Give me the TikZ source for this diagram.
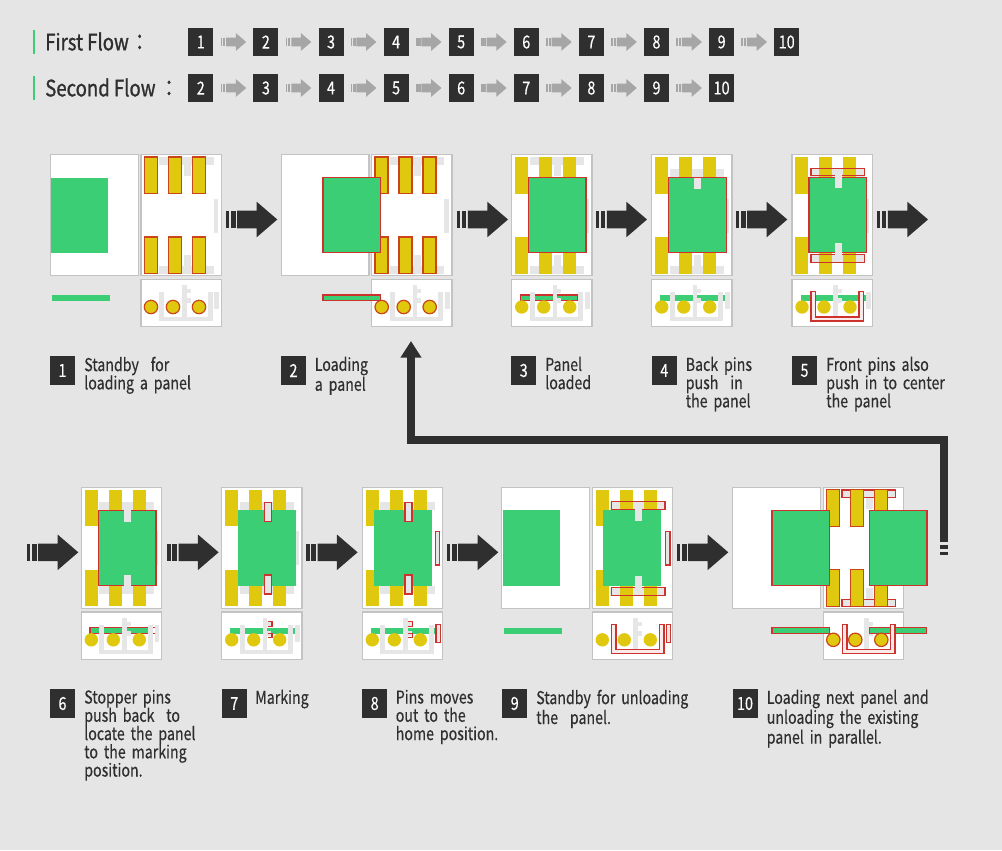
\documentclass[tikz,border=0pt]{standalone}
\usepackage{fontspec}
\setmainfont[FakeStretch=0.8, FakeBold=0.35]{Noto Sans CJK KR}
\newfontfamily\titlefont[FakeStretch=0.82, FakeBold=1]{Noto Sans CJK KR}
\usetikzlibrary{arrows.meta, calc}
\definecolor{pagegrey}{RGB}{229, 229, 229}
\definecolor{framegrey}{RGB}{195, 195, 195}
\definecolor{markgrey}{RGB}{230, 230, 230}
\definecolor{numdark}{RGB}{47, 47, 47}
\definecolor{arrowgrey}{RGB}{166, 166, 166}
\definecolor{panelgreen}{RGB}{60, 206, 116}
\definecolor{pinyellow}{RGB}{224, 200, 15}
\definecolor{linered}{RGB}{205, 50, 45}
\definecolor{pinedge}{RGB}{200, 70, 25}
\tikzset{
  flownum/.style={fill=numdark, text=white, minimum width=18.75pt, minimum height=21.5pt, inner sep=0pt, font=\fontsize{13.5}{13.5}\selectfont},
  flowtitle/.style={anchor=west, inner sep=0pt, text=numdark, font=\titlefont\fontsize{17}{17}\selectfont},
  capnum/.style={flownum},
  captext/.style={anchor=north west, inner sep=0pt, text width=125pt, align=left, text=numdark, font=\fontsize{13.3}{13.7}\selectfont},
  frame/.style={fill=white, draw=framegrey, line width=1pt},
  marks/.style={fill=markgrey},
  markred/.style={fill=markgrey, draw=linered, line width=0.9pt},
  redline/.style={draw=linered, line width=0.9pt},
  ubar/.style={fill=linered!10, draw=linered, line width=0.9pt},
  pinplain/.style={fill=pinyellow},
  pinred/.style={fill=pinyellow, draw=pinedge, line width=0.9pt},
  panelplain/.style={fill=panelgreen},
  panelred/.style={fill=panelgreen, draw=linered, line width=0.9pt},
  sidepart/.style={shift={(0,124.8)}},
  returnline/.style={draw=numdark, line width=6pt, -{Triangle[length=12.5pt, width=15pt]}}
}
\newcommand{\blockarrow}[3]{
  \begin{scope}[shift={(#1)}, scale=#2]
    \fill[#3] (-25.6,-8.8) rectangle (-22.3,8.8);
    \fill[#3] (-20.6,-8.8) rectangle (-16,8.8);
    \fill[#3] (-14.4,-8.8) -- (5,-8.8) -- (5,-17.8) -- (25.7,0) -- (5,17.8) -- (5,8.8) -- (-14.4,8.8) -- cycle;
  \end{scope}
}
\newcommand{\loadframe}{\path[frame] (-90.5,0) rectangle (-2.8,121.3);}
\newcommand{\topframe}{\path[frame] (0,0) rectangle (80.3,121.3);}
\newcommand{\sideframe}{\path[frame] (0,0) rectangle (80.3,47.4);}
\newcommand{\greytop}[1]{\fill[marks] (18,#1) rectangle (72.5,#1+8); \fill[marks] (42.5,#1) rectangle (49.5,#1+19);}
\newcommand{\greybot}[1]{\fill[marks] (18,#1) rectangle (72.5,#1+8); \fill[marks] (42.5,#1-11) rectangle (49.5,#1+8);}
\newcommand{\greyright}{\fill[marks] (72.5,44) rectangle (77,78);}
\newcommand{\pinrow}[1]{
  \foreach \px in {3.3,27.3,51.3} {
    \path[#1] (\px,2.5) rectangle ++(13,36.5);
    \path[#1] (\px,82.5) rectangle ++(13,36.5);
  }
}
\newcommand{\panelat}[2]{\path[#1] (#2,23) rectangle ++(57.6,75.3);}
\newcommand{\slotmark}[3][marks]{\path[#1] (42.7,#2) rectangle (49.7,#3);}
\newcommand{\redbar}[1]{\path[redline] (19,#1) rectangle (72.7,#1+7.5);}
\newcommand{\sidebase}{
  \fill[marks] (18,12.4) rectangle (23,41.7);
  \fill[marks] (66.7,12.4) rectangle (71.7,41.7);
  \fill[marks] (18,37.4) rectangle (71.7,41.7);
  \fill[marks] (73.3,12.4) rectangle (78,29.7);
  \sidecentre
}
\newcommand{\sidecentre}{
  \fill[marks] (41,5.7) rectangle (45.5,39);
  \fill[marks] (45.5,9.7) rectangle (49.5,13.7);
  \fill[marks] (45.5,18.7) rectangle (49.5,23.7);
}
\newcommand{\sidepanel}[3]{\path[#1] (#2,15.7) rectangle (#3,21.4);}
\newcommand{\ushape}{\path[ubar] (19,12.4) -- (23.7,12.4) -- (23.7,37.7) -- (67,37.7) -- (67,12.4) -- (71.7,12.4) -- (71.7,41.7) -- (19,41.7) -- cycle;}
\newcommand{\sidecircles}[1]{
  \foreach \cx in {10,32,58} {
    \path[#1] (\cx,27.7) circle (6.7);
  }
}
\newcommand{\smallhooks}{
  \path[redline] (46,9.7) -- (50.3,9.7) -- (50.3,14) -- (46,14);
  \path[redline] (46,21.3) -- (50.3,21.3) -- (50.3,25.7) -- (46,25.7);
}

\begin{document}
\begin{tikzpicture}[x=0.75pt, y=-0.75pt]
  \useasboundingbox (0,0) rectangle (1002,850);
  \fill[pagegrey] (0,0) rectangle (1002,850);

  % flow lists
  \fill[panelgreen] (32.7,30) rectangle (35,54);
  \fill[panelgreen] (32.7,76) rectangle (35,100);
  \node[flowtitle] (firstflow) at (45,41.5) {First Flow\hspace{-2pt} ：};
  \node[flowtitle] (secondflow) at (45,87.5) {Second Flow ：};
  \foreach \n in {1,...,10} {
    \node[flownum] (fa\n) at ({200.8+65.1*(\n-1)},42) {\n};
  }
  \foreach \n in {2,...,10} {
    \node[flownum] (fb\n) at ({200.8+65.1*(\n-2)},88) {\n};
  }
  \foreach \n [count=\m from 2] in {1,...,9} {
    \blockarrow{$(fa\n.east)!0.5!(fa\m.west)$}{0.5}{arrowgrey}
  }
  \foreach \n [count=\m from 3] in {2,...,9} {
    \blockarrow{$(fb\n.east)!0.5!(fb\m.west)$}{0.5}{arrowgrey}
  }

  % stage 1
  \begin{scope}[shift={(141,154.5)}]
    \loadframe
    \topframe
    \greytop{2.5} \greybot{111.5} \greyright
    \pinrow{pinred}
    \panelat{panelplain}{-90.3}
    \begin{scope}[sidepart]
      \sideframe
      \sidebase
      \sidepanel{panelplain}{-89}{-31}
      \sidecircles{pinred}
    \end{scope}
  \end{scope}
  % stage 2
  \begin{scope}[shift={(371.7,154.5)}]
    \loadframe
    \topframe
    \greytop{2.5} \greybot{111.5} \greyright
    \pinrow{pinred}
    \panelat{panelred}{-48.7}
    \begin{scope}[sidepart]
      \sideframe
      \sidebase
      \sidecircles{pinred}
      \sidepanel{panelred}{-48.7}{8.6}
    \end{scope}
  \end{scope}
  % stage 3
  \begin{scope}[shift={(511.7,154.5)}]
    \topframe
    \greytop{2.5} \greybot{111.5} \greyright
    \pinrow{pinplain}
    \panelat{panelred}{16.7}
    \begin{scope}[sidepart]
      \sideframe
      \sidepanel{panelred}{8.6}{66}
      \sidebase
      \sidecircles{pinplain}
    \end{scope}
  \end{scope}
  % stage 4
  \begin{scope}[shift={(651.7,154.5)}]
    \topframe
    \greytop{14.5} \greybot{111.5} \greyright
    \pinrow{pinplain}
    \panelat{panelred}{17}
    \slotmark{23}{34.5}
    \begin{scope}[sidepart]
      \sideframe
      \sidepanel{panelplain}{8.3}{74.3}
      \sidebase
      \sidecircles{pinplain}
    \end{scope}
  \end{scope}
  % stage 5
  \begin{scope}[shift={(792,154.5)}]
    \topframe
    \greytop{14} \greybot{100.5} \greyright
    \pinrow{pinplain}
    \redbar{13.8} \redbar{100.3}
    \panelat{panelred}{17}
    \slotmark{16.5}{33.2}
    \slotmark{88.2}{106.2}
    \begin{scope}[sidepart]
      \sideframe
      \sidepanel{panelplain}{8.7}{74}
      \sidecentre
      \fill[marks] (74,12.4) rectangle (78.7,29.7);
      \ushape
      \sidecircles{pinplain}
    \end{scope}
  \end{scope}

  % stage 6
  \begin{scope}[shift={(81.3,487.3)}]
    \topframe
    \greytop{15} \greybot{99} \greyright
    \pinrow{pinplain}
    \panelat{panelred}{17}
    \slotmark{23}{34.4}
    \slotmark{87.7}{98.3}
    \begin{scope}[sidepart]
      \sideframe
      \sidepanel{panelred}{8.7}{67.7}
      \path[redline] (71.4,15.7) rectangle (74,21.4);
      \sidebase
      \sidecircles{pinplain}
    \end{scope}
  \end{scope}
  % stage 7
  \begin{scope}[shift={(221.7,487.3)}]
    \topframe
    \greytop{15} \greybot{99} \greyright
    \pinrow{pinplain}
    \panelat{panelplain}{16.7}
    \slotmark[markred]{15}{34}
    \slotmark[markred]{87.7}{106.7}
    \begin{scope}[sidepart]
      \sideframe
      \sidepanel{panelplain}{8.7}{74}
      \sidebase
      \smallhooks
      \sidecircles{pinplain}
    \end{scope}
  \end{scope}
  % stage 8
  \begin{scope}[shift={(362.3,487.3)}]
    \topframe
    \greytop{15} \greybot{99}
    \pinrow{pinplain}
    \panelat{panelplain}{11.7}
    \slotmark[markred]{15}{34}
    \slotmark[markred]{87.7}{106.7}
    \path[markred] (73,44) rectangle (77.3,77.7);
    \begin{scope}[sidepart]
      \sideframe
      \sidepanel{panelplain}{8.7}{74}
      \sidebase
      \smallhooks
      \sidecircles{pinplain}
      \path[markred] (73.7,12.3) rectangle (78.4,30.3);
    \end{scope}
  \end{scope}
  % stage 9
  \begin{scope}[shift={(592.3,487.3)}]
    \loadframe
    \topframe
    \greytop{14.3} \greybot{100.4}
    \pinrow{pinplain}
    \redbar{14.3} \redbar{100.4}
    \panelat{panelplain}{-89.6}
    \panelat{panelplain}{11}
    \slotmark{20}{33.4}
    \slotmark{88.7}{105.4}
    \path[markred] (73,44) rectangle (77.7,77.7);
    \begin{scope}[sidepart]
      \sideframe
      \sidepanel{panelplain}{-88.3}{-30.3}
      \sidecentre
      \ushape
      \path[markred] (74.4,12.3) rectangle (78.4,30.3);
      \sidecircles{pinplain}
    \end{scope}
  \end{scope}
  % stage 10
  \begin{scope}[shift={(823.3,487.3)}]
    \loadframe
    \topframe
    \greytop{2.7} \greybot{112}
    \path[markred] (18.7,2.7) rectangle (72,10);
    \path[markred] (18.7,112) rectangle (72,119.4);
    \pinrow{pinred}
    \panelat{panelred}{-51.3}
    \panelat{panelred}{46}
    \begin{scope}[sidepart]
      \sideframe
      \sidecentre
      \sidepanel{panelred}{-51.3}{6}
      \sidepanel{panelred}{46}{103.4}
      \ushape
      \sidecircles{pinred}
    \end{scope}
  \end{scope}

  % block arrows
  \blockarrow{251.6,219.5}{1}{numdark}
  \blockarrow{482.3,219.5}{1}{numdark}
  \blockarrow{621.3,219.5}{1}{numdark}
  \blockarrow{761.6,219.5}{1}{numdark}
  \blockarrow{902.3,219.5}{1}{numdark}
  \blockarrow{52.6,552.3}{1}{numdark}
  \blockarrow{192.9,552.3}{1}{numdark}
  \blockarrow{331.9,552.3}{1}{numdark}
  \blockarrow{472.6,552.3}{1}{numdark}
  \blockarrow{702.6,552.3}{1}{numdark}

  % return line
  \coordinate (returnstart) at (944,542);
  \coordinate (returnbend) at (411,439.5);
  \coordinate (returnend) at (411,341);
  \draw[returnline] (returnstart) |- (returnbend) -- (returnend);
  \fill[numdark] (940,545) rectangle (948,549);
  \fill[numdark] (940,551.7) rectangle (948,555);

  % captions, first row
  \node[capnum] (num1) at (62.5,370.5) {1};
  \node[captext] (cap1) at (84,356.5) {Standby\ \ for\\loading a panel};
  \node[capnum] (num2) at (293.5,370.5) {2};
  \node[captext] (cap2) at (314.5,356.5) {Loading\\a panel};
  \node[capnum] (num3) at (523.7,370.5) {3};
  \node[captext] (cap3) at (545,356.5) {Panel\\loaded};
  \node[capnum] (num4) at (664.3,370.5) {4};
  \node[captext] (cap4) at (685.5,356.5) {Back pins\\push\ \ in\\the panel};
  \node[capnum] (num5) at (804.5,370.5) {5};
  \node[captext] (cap5) at (826,356.5) {Front pins also\\push in to center\\the panel};
  % captions, second row
  \node[capnum] (num6) at (62.5,703.5) {6};
  \node[captext] (cap6) at (84,689.5) {Stopper pins\\push back\ \ to\\locate the panel\\to the marking\\position.};
  \node[capnum] (num7) at (234.3,703.5) {7};
  \node[captext] (cap7) at (255,689.5) {Marking};
  \node[capnum] (num8) at (374.7,703.5) {8};
  \node[captext] (cap8) at (395.5,689.5) {Pins moves\\out to the\\home position.};
  \node[capnum] (num9) at (514.7,703.5) {9};
  \node[captext] (cap9) at (536,689.5) {Standby for unloading\\the\ \ panel.};
  \node[capnum] (num10) at (745,703.5) {10};
  \node[captext] (cap10) at (766.5,689.5) {Loading next panel and\\unloading the existing\\panel in parallel.};
\end{tikzpicture}
\end{document}
